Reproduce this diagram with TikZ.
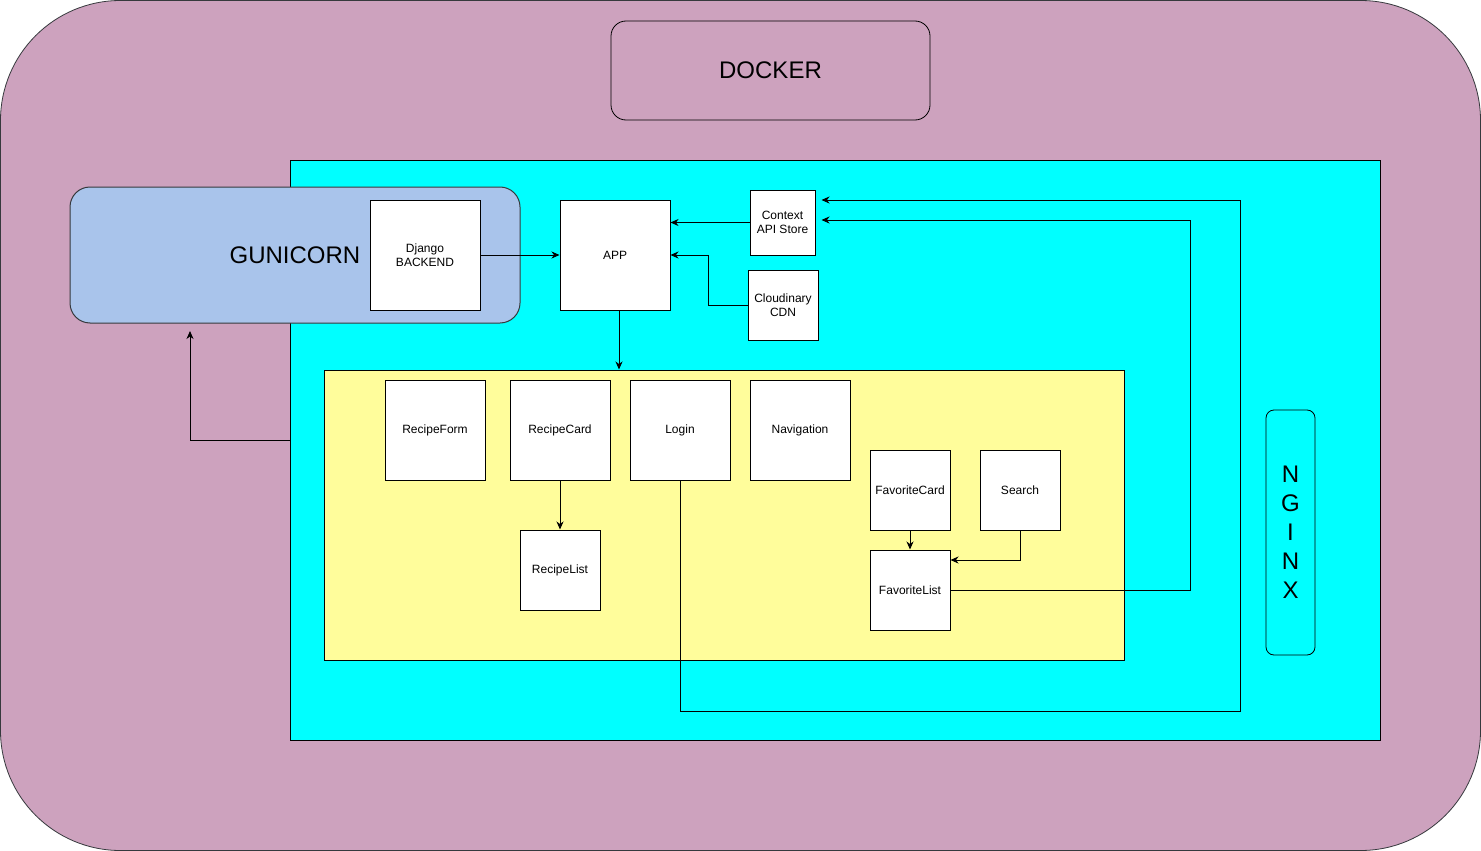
\documentclass[tikz,border=0pt]{standalone}
\usepackage{fontspec}
\setmainfont{Liberation Sans}
\usetikzlibrary{arrows.meta,calc}
\definecolor{dockpink}{HTML}{CDA2BE}
\definecolor{cyanbg}{HTML}{00FFFF}
\definecolor{yelbg}{HTML}{FFFD9B}
\definecolor{gunblue}{HTML}{A9C4EB}
\definecolor{gunline}{HTML}{36393D}
\tikzset{
  comp/.style={draw=black, fill=white, line width=1pt, inner sep=0pt, align=center,
    font=\fontsize{12}{14.5}\selectfont},
  bigtxt/.style={font=\fontsize{24}{29}\selectfont},
  conn/.style={draw=black, line width=1pt, -{Stealth[length=8pt,width=7pt,inset=2.5pt]}},
  plain/.style={draw=black, line width=1pt},
}
\begin{document}
\begin{tikzpicture}[x=1pt,y=-1pt]
\useasboundingbox (0,0) rectangle (1481,851);
\fill[white] (0,0) rectangle (1481,851);
% outer docker container
\draw[fill=dockpink, draw=gunline, line width=0.8pt, rounded corners=120pt] (0.5,0.5) rectangle (1480.5,850.5);
\node[draw=black, line width=0.8pt, rounded corners=15pt, minimum width=319pt, minimum height=99pt, bigtxt] (docker) at (770.5,70.5) {DOCKER};
% nginx area
\node[draw=black, line width=1pt, fill=cyanbg, minimum width=1090pt, minimum height=580pt, inner sep=0pt] (cyan) at (835,450) {};
% gunicorn
\node[draw=gunline, line width=1pt, fill=gunblue, rounded corners=20pt, minimum width=450pt, minimum height=136pt, inner sep=0pt] (gun) at (295,255) {};
\node[bigtxt, inner sep=0pt] (guntxt) at (295,255) {GUNICORN};
\node[comp, minimum width=110pt, minimum height=110pt] (django) at (425,255) {Django\\BACKEND};
% app + services
\node[comp, minimum width=110pt, minimum height=110pt] (app) at (615,255) {APP};
\node[comp, minimum width=65pt, minimum height=65pt] (ctx) at (782.5,222.5) {Context\\API Store};
\node[comp, minimum width=70pt, minimum height=70pt] (cdn) at (783,305) {Cloudinary\\CDN};
% yellow components area
\node[draw=black, line width=1pt, fill=yelbg, minimum width=800pt, minimum height=290pt, inner sep=0pt] (yel) at (724.5,515) {};
\node[comp, minimum width=100pt, minimum height=100pt] (rform) at (435,430) {RecipeForm};
\node[comp, minimum width=100pt, minimum height=100pt] (rcard) at (560,430) {RecipeCard};
\node[comp, minimum width=100pt, minimum height=100pt] (login) at (680,430) {Login};
\node[comp, minimum width=100pt, minimum height=100pt] (nav) at (800,430) {Navigation};
\node[comp, minimum width=80pt, minimum height=80pt] (fcard) at (910,490) {FavoriteCard};
\node[comp, minimum width=80pt, minimum height=80pt] (srch) at (1020,490) {Search};
\node[comp, minimum width=80pt, minimum height=80pt] (rlist) at (560,570) {RecipeList};
\node[comp, minimum width=80pt, minimum height=80pt] (flist) at (910,590) {FavoriteList};
% nginx label box
\node[draw=black, line width=0.8pt, rounded corners=8pt, minimum width=49pt, minimum height=245pt, inner sep=0pt, align=center, bigtxt] (nginx) at (1290.5,532.5) {N\\G\\I\\N\\X};
% connectors
\coordinate (gunin) at (190,331);
\draw[conn] (django.east) -- (app.west);
\draw[conn] (ctx.west) -- (ctx.west -| app.east);
\draw[conn] (cdn.west) -- ++(-39,0) |- (app.east);
\draw[conn] ([xshift=4pt]app.south) -- ([xshift=4pt]app.south |- yel.north);
\draw[conn] ([yshift=10pt]cyan.west) -| (gunin);
\draw[conn] (rcard.south) -- (rlist.north);
\draw[conn] (fcard.south) -- (flist.north);
\draw[conn] (srch.south) |- ([yshift=30pt]flist.east);
\draw[conn] (flist.east) -| (1190,220) -- ([xshift=6pt,yshift=2.5pt]ctx.east);
\draw[conn] (login.south) -- (680,711) -| (1240,200) -- ([xshift=6pt,yshift=22.5pt]ctx.east);
\end{tikzpicture}
\end{document}
